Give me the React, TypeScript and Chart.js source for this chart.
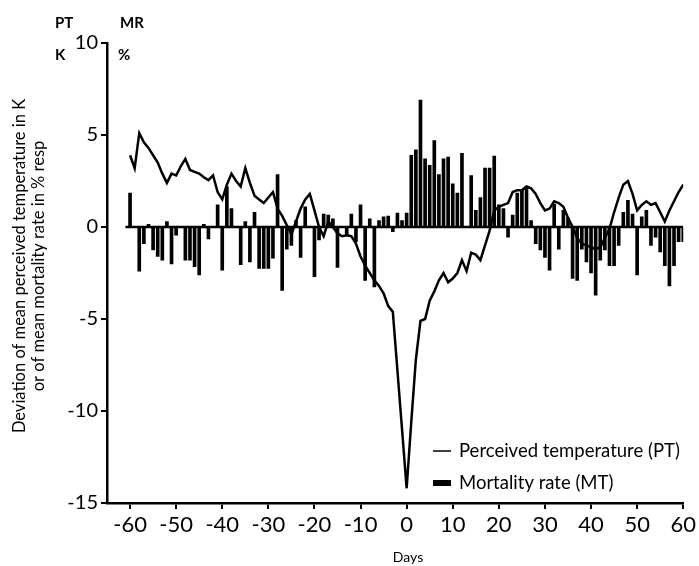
import React, { useEffect, useRef } from "react";
import { Chart, registerables } from "chart.js";

Chart.register(...registerables);

const days = [
  -60, -59, -58, -57, -56, -55, -54, -53, -52, -51,
  -50, -49, -48, -47, -46, -45, -44, -43, -42, -41,
  -40, -39, -38, -37, -36, -35, -34, -33, -32, -31,
  -30, -29, -28, -27, -26, -25, -24, -23, -22, -21,
  -20, -19, -18, -17, -16, -15, -14, -13, -12, -11,
  -10, -9, -8, -7, -6, -5, -4, -3, -2, -1,
  0, 1, 2, 3, 4, 5, 6, 7, 8, 9,
  10, 11, 12, 13, 14, 15, 16, 17, 18, 19,
  20, 21, 22, 23, 24, 25, 26, 27, 28, 29,
  30, 31, 32, 33, 34, 35, 36, 37, 38, 39,
  40, 41, 42, 43, 44, 45, 46, 47, 48, 49,
  50, 51, 52, 53, 54, 55, 56, 57, 58, 59, 60,
];

const perceivedTemp = [
  3.9, 3.2, 5.1, 4.6, 4.3, 3.9, 3.5, 2.9, 2.4, 2.9,
  2.8, 3.3, 3.7, 3.1, 3.0, 2.9, 2.7, 2.55, 2.8, 1.9,
  1.5, 2.3, 2.9, 2.5, 2.2, 3.2, 2.4, 1.7, 1.5, 1.3,
  1.6, 1.9, 1.0, 0.6, 0.1, -0.4, 0.3, 1.0, 1.5, 1.8,
  0.9, 0.0, -0.5, 0.3, 0.0, -0.35, -0.5, -0.45, -0.5, -0.9,
  -1.6, -2.1, -2.5, -2.9, -3.2, -3.6, -4.3, -4.6, -7.8, -11.0,
  -14.2, -10.6, -7.2, -5.1, -5.0, -4.0, -3.5, -2.9, -2.5, -3.0,
  -2.8, -2.5, -1.8, -2.4, -1.4, -1.5, -1.8, -1.0, -0.2, 0.9,
  1.1, 1.2, 1.3, 1.9, 2.0, 2.0, 2.2, 2.1, 1.8, 1.3,
  0.9, 1.0, 1.4, 1.3, 1.1, 0.5, 0.0, -0.6, -0.9, -1.0,
  -1.1, -1.2, -1.1, -0.6, -0.1, 0.8, 1.6, 2.3, 2.5, 1.8,
  0.9, 1.2, 1.4, 1.2, 1.3, 0.8, 0.3, 0.9, 1.4, 1.9, 2.3,
];

const mortalityRate = [
  1.85, 0, -2.4, -0.9, 0.15, -1.25, -1.6, -1.8, 0.3, -2.0,
  -0.45, 0, -1.8, -1.8, -2.15, -2.6, 0.15, -0.65, 0, 1.2,
  -2.35, 2.2, 1.0, 0, -2.05, 0.3, -1.9, 0.8, -2.25, -2.25,
  -2.25, -1.7, 2.85, -3.45, -1.2, -1.0, 0.35, -1.65, 1.1, 0,
  -2.7, -0.7, 0.7, 0.65, 0.45, -2.2, 0, -0.4, 0.7, -0.8,
  1.2, -2.9, 0.45, -3.25, 0.35, 0.55, 0.6, -0.25, 0.75, 0.35,
  0.75, 3.9, 4.2, 6.9, 3.7, 3.35, 4.7, 2.85, 3.7, 3.8,
  2.35, 1.85, 4.0, 0, 2.8, 0.9, 1.6, 3.2, 3.2, 3.85,
  1.2, 1.0, -0.55, 0.65, 1.85, 2.0, 2.2, 0.35, -0.9, -1.25,
  -1.65, -2.35, 1.25, -1.2, 0.9, 0.5, -2.8, -2.9, -1.2, -1.9,
  -2.5, -3.7, -1.8, -1.25, -2.1, -2.1, -1.0, 0.8, 1.45, 0.7,
  -2.6, 0.55, 0.9, -1.0, -0.55, -1.35, -2.1, -3.2, -2.1, -0.8, -0.8,
];

const xTicks = [-60, -50, -40, -30, -20, -10, 0, 10, 20, 30, 40, 50, 60];
const yTicks = [-15, -10, -5, 0, 5, 10];
const baselineX = [-61, 60];

const FONT = "Lato, 'Open Sans', sans-serif";

export default function App() {
  const ref = useRef<HTMLCanvasElement>(null);

  useEffect(() => {
    if (!ref.current) return;

    const textPlugin = {
      id: "extraTexts",
      afterDraw(chart: any) {
        const ctx = chart.ctx as CanvasRenderingContext2D;
        ctx.save();
        ctx.fillStyle = "#000";
        ctx.strokeStyle = "#000";
        ctx.textBaseline = "middle";
        ctx.textAlign = "left";
        ctx.font = `bold 15px ${FONT}`;
        ctx.fillText("PT", 55, 23);
        ctx.fillText("MR", 120, 23);
        ctx.fillText("K", 55, 55);
        ctx.fillText("%", 118, 55);

        // x title
        ctx.font = `14px ${FONT}`;
        ctx.textAlign = "center";
        ctx.fillText("Days", 408, 557);

        // y title
        ctx.save();
        ctx.translate(20, 266);
        ctx.rotate(-Math.PI / 2);
        ctx.textAlign = "center";
        ctx.font = `16.5px ${FONT}`;
        ctx.fillText("Deviation of mean perceived temperature in K", 0, 0);
        ctx.fillText("or of mean mortality rate in % resp", 0, 19);
        ctx.restore();

        // legend
        ctx.font = `18.5px ${FONT}`;
        ctx.textAlign = "left";
        ctx.lineWidth = 1.5;
        ctx.beginPath();
        ctx.moveTo(433, 451);
        ctx.lineTo(451, 451);
        ctx.stroke();
        ctx.fillText("Perceived temperature (PT)", 459, 451);
        ctx.fillRect(433, 480, 18, 6);
        ctx.fillText("Mortality rate (MT)", 459, 483);
        ctx.restore();
      },
    };

    const axisCommon = {
      grid: {
        display: true,
        drawOnChartArea: false,
        drawTicks: true,
        tickLength: 6,
        color: "#000",
        lineWidth: 2,
        offset: false,
      },
      border: { display: true, color: "#000", width: 2.5 },
    };

    const chart = new Chart(ref.current, {
      type: "bar",
      data: {
        datasets: [
          {
            type: "line",
            label: "Perceived temperature (PT)",
            data: days.map((d, i) => ({ x: d, y: perceivedTemp[i] })),
            borderColor: "#000",
            borderWidth: 2.5,
            pointRadius: 0,
            tension: 0,
            fill: false,
          } as any,
          {
            type: "line",
            label: "baseline",
            data: baselineX.map((d) => ({ x: d, y: 0 })),
            borderColor: "#000",
            borderWidth: 2.5,
            pointRadius: 0,
            fill: false,
          } as any,
          {
            type: "bar",
            label: "Mortality rate (MT)",
            data: days.map((d, i) => ({ x: d, y: mortalityRate[i] })),
            backgroundColor: "#000",
            borderWidth: 0,
            barThickness: 3,
            grouped: false,
          } as any,
        ],
      },
      options: {
        animation: false,
        responsive: false,
        maintainAspectRatio: false,
        layout: { padding: { left: 0, right: 14, top: 43, bottom: 0 } },
        plugins: {
          legend: { display: false },
          tooltip: { enabled: false },
        },
        scales: {
          x: {
            type: "linear",
            min: -65,
            max: 60,
            offset: false,
            ...axisCommon,
            ticks: {
              color: "#000",
              font: { family: FONT, size: 22 },
              padding: 3,
              maxRotation: 0,
              autoSkip: false,
            },
            afterBuildTicks: (axis: any) => {
              axis.ticks = xTicks.map((v) => ({ value: v }));
            },
            afterFit: (s: any) => {
              s.height = 63;
            },
          },
          y: {
            type: "linear",
            min: -15,
            max: 10,
            ...axisCommon,
            ticks: {
              color: "#000",
              font: { family: FONT, size: 20 },
              padding: 3,
            },
            afterBuildTicks: (axis: any) => {
              axis.ticks = yTicks.map((v) => ({ value: v }));
            },
            afterFit: (s: any) => {
              s.width = 107;
            },
          },
        },
      } as any,
      plugins: [textPlugin],
    });

    return () => chart.destroy();
  }, []);

  return (
    <div style={{ position: "absolute", left: 0, top: 0, width: 699, height: 566, background: "#fff" }}>
      <canvas ref={ref} width={699} height={566} style={{ display: "block", width: 699, height: 566 }} />
    </div>
  );
}
